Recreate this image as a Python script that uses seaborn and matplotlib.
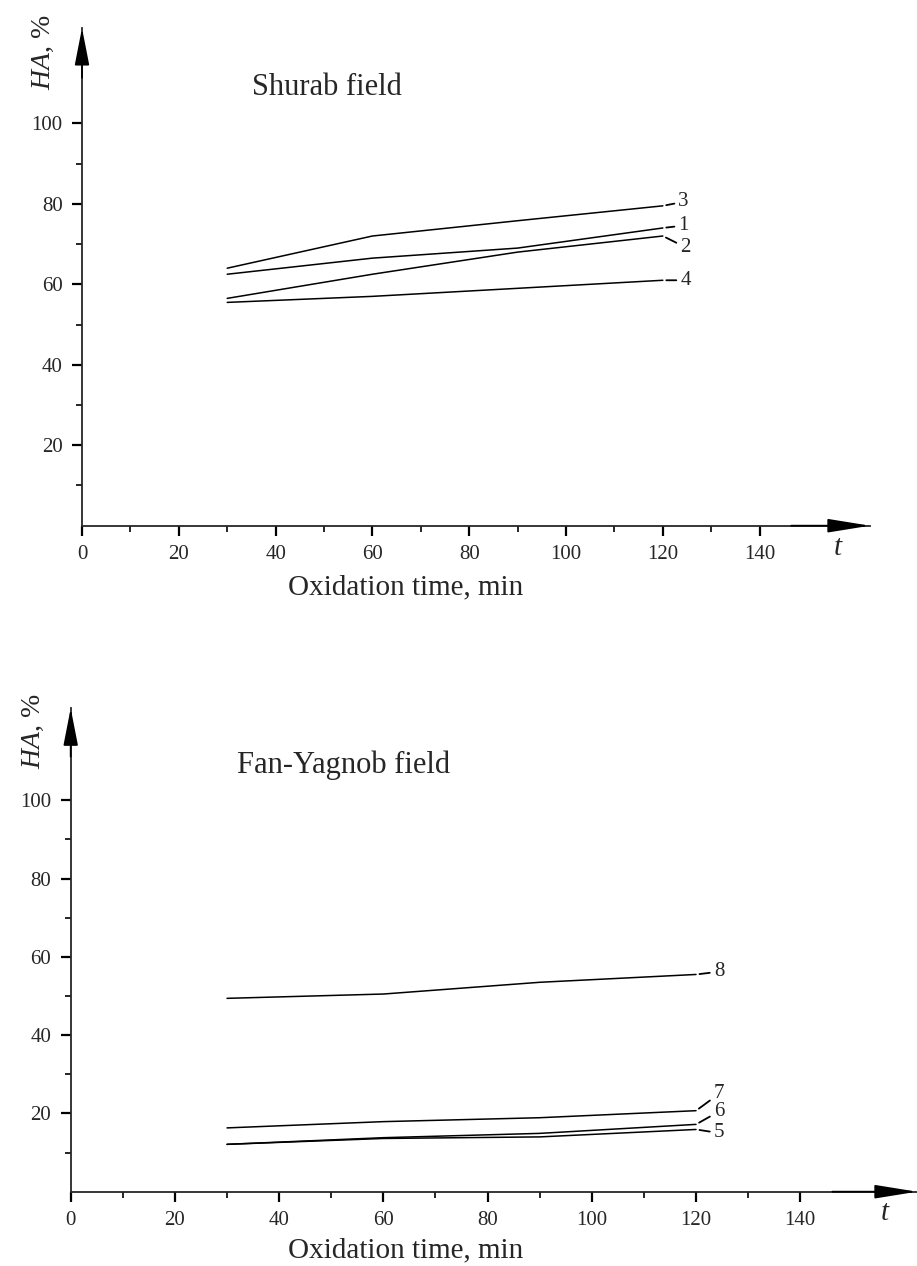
import numpy as np
import pandas as pd
import matplotlib
matplotlib.use("Agg")
import matplotlib.pyplot as plt
import seaborn as sns

# ---------------- data ----------------
time_min = [30, 60, 90, 120]

shurab_1 = [62.5, 66.5, 69.0, 74.0]
shurab_2 = [56.5, 62.5, 68.0, 72.0]
shurab_3 = [64.0, 72.0, 75.8, 79.5]
shurab_4 = [55.5, 57.0, 59.0, 61.0]

fan_5 = [12.1, 13.6, 14.0, 15.9]
fan_6 = [12.1, 13.8, 14.9, 17.2]
fan_7 = [16.3, 17.9, 18.9, 20.7]
fan_8 = [49.4, 50.5, 53.5, 55.5]

top_title = "Shurab field"
bottom_title = "Fan-Yagnob field"
x_label = "Oxidation time, min"
x_ticks = [0, 20, 40, 60, 80, 100, 120, 140]
y_ticks = [20, 40, 60, 80, 100]

# ---------------- style ----------------
sns.set_style("ticks")
plt.rcParams["font.family"] = ["Liberation Serif", "DejaVu Serif"]
plt.rcParams["mathtext.fontset"] = "custom"
plt.rcParams["mathtext.rm"] = "Liberation Serif"
plt.rcParams["mathtext.it"] = "Liberation Serif:italic"

fig = plt.figure(figsize=(9.17, 12.66), dpi=100)

ax1 = fig.add_axes([82 / 917, 1 - 525.7 / 1266, (870 - 82) / 917, (525.7 - 28) / 1266])
ax2 = fig.add_axes([70.7 / 917, 1 - 1191.7 / 1266, (917 - 70.7) / 917, (1191.7 - 708.3) / 1266])


def long_df(series):
    rows = []
    for name, vals in series.items():
        for t, v in zip(time_min, vals):
            rows.append({"t": t, "HA": v, "curve": name})
    return pd.DataFrame(rows)


top_series = {"1": shurab_1, "2": shurab_2, "3": shurab_3, "4": shurab_4}
bot_series = {"5": fan_5, "6": fan_6, "7": fan_7, "8": fan_8}

df_top = long_df(top_series)
df_bot = long_df(bot_series)

pal_top = {k: "black" for k in top_series}
pal_bot = {k: "black" for k in bot_series}

sns.lineplot(data=df_top, x="t", y="HA", hue="curve", palette=pal_top,
             legend=False, ax=ax1, linewidth=1.1)
sns.lineplot(data=df_bot, x="t", y="HA", hue="curve", palette=pal_bot,
             legend=False, ax=ax2, linewidth=1.1)


def style_axes(ax, xmax, ymax):
    ax.set_xlim(0, xmax)
    ax.set_ylim(0, ymax)
    ax.spines["top"].set_visible(False)
    ax.spines["right"].set_visible(False)
    ax.spines["left"].set_linewidth(1.3)
    ax.spines["bottom"].set_linewidth(1.3)
    ax.set_xticks(x_ticks)
    ax.set_xticklabels([str(v) for v in x_ticks])
    ax.set_xticks([10, 30, 50, 70, 90, 110, 130], minor=True)
    ax.set_yticks(y_ticks)
    ax.set_yticklabels([str(v) for v in y_ticks])
    ax.set_yticks([10, 30, 50, 70, 90], minor=True)
    ax.tick_params(axis="both", which="major", direction="out", length=7,
                   width=1.6, labelsize=15, pad=7, color="black")
    ax.tick_params(axis="both", which="minor", direction="out", length=4,
                   width=1.2, color="black")
    ax.set_xlabel(x_label, fontsize=21)
    ax.set_ylabel("")
    ax.xaxis.label.set_verticalalignment("center")
    # axis arrows
    ax.annotate("", xy=(0, 1.0), xytext=(0, 0.90), xycoords="axes fraction",
                arrowprops=dict(arrowstyle="-|>,head_length=2.3,head_width=0.45",
                                color="black", lw=1.3, shrinkA=0, shrinkB=0),
                annotation_clip=False)
    ax.annotate("", xy=(1.0, 0), xytext=(0.9, 0), xycoords="axes fraction",
                arrowprops=dict(arrowstyle="-|>,head_length=2.6,head_width=0.42",
                                color="black", lw=1.3, shrinkA=0, shrinkB=0),
                annotation_clip=False)
    ax.set_facecolor("white")


style_axes(ax1, 162.8, 123.7)
style_axes(ax2, 162.4, 123.5)

ax1.xaxis.set_label_coords((406 - 82) / 788, -(587 - 525.7) / 497.7)
ax2.xaxis.set_label_coords((406 - 70.7) / 846.3, -(1250 - 1191.7) / 483.4)

# titles inside plots
ax1.text(35.1, 108.8, top_title, fontsize=22, ha="left", va="center")
ax2.text(31.9, 109.0, bottom_title, fontsize=22, ha="left", va="center")

# y-axis labels
fig.text(43 / 917, 1 - 52 / 1266, r"$\it{HA}$, %", rotation=90, fontsize=20,
         ha="center", va="center")
fig.text(33 / 917, 1 - 731 / 1266, r"$\it{HA}$, %", rotation=90, fontsize=20,
         ha="center", va="center")

# 't' labels at end of x axes
fig.text(838 / 917, 1 - 548 / 1266, "t", fontsize=21, style="italic",
         ha="center", va="center")
fig.text(885 / 917, 1 - 1213 / 1266, "t", fontsize=21, style="italic",
         ha="center", va="center")

# curve labels with leader lines
top_labels = {"3": (123.2, 80.5), "1": (123.2, 74.6), "2": (123.6, 69.2), "4": (123.6, 61.0)}
bot_labels = {"7": (123.4, 25.0), "6": (123.4, 20.5), "5": (123.4, 15.0), "8": (123.4, 56.2)}


def label_curves(ax, series, labels):
    for name, (lx, ly) in labels.items():
        ex, ey = time_min[-1], series[name][-1]
        ax.annotate(name, xy=(ex, ey), xytext=(lx, ly), fontsize=15,
                    ha="left", va="center",
                    arrowprops=dict(arrowstyle="-", color="black", lw=1.3,
                                    shrinkA=0.5, shrinkB=2.5))


label_curves(ax1, top_series, top_labels)
label_curves(ax2, bot_series, bot_labels)

fig.savefig("out.png", dpi=100, facecolor="white")
